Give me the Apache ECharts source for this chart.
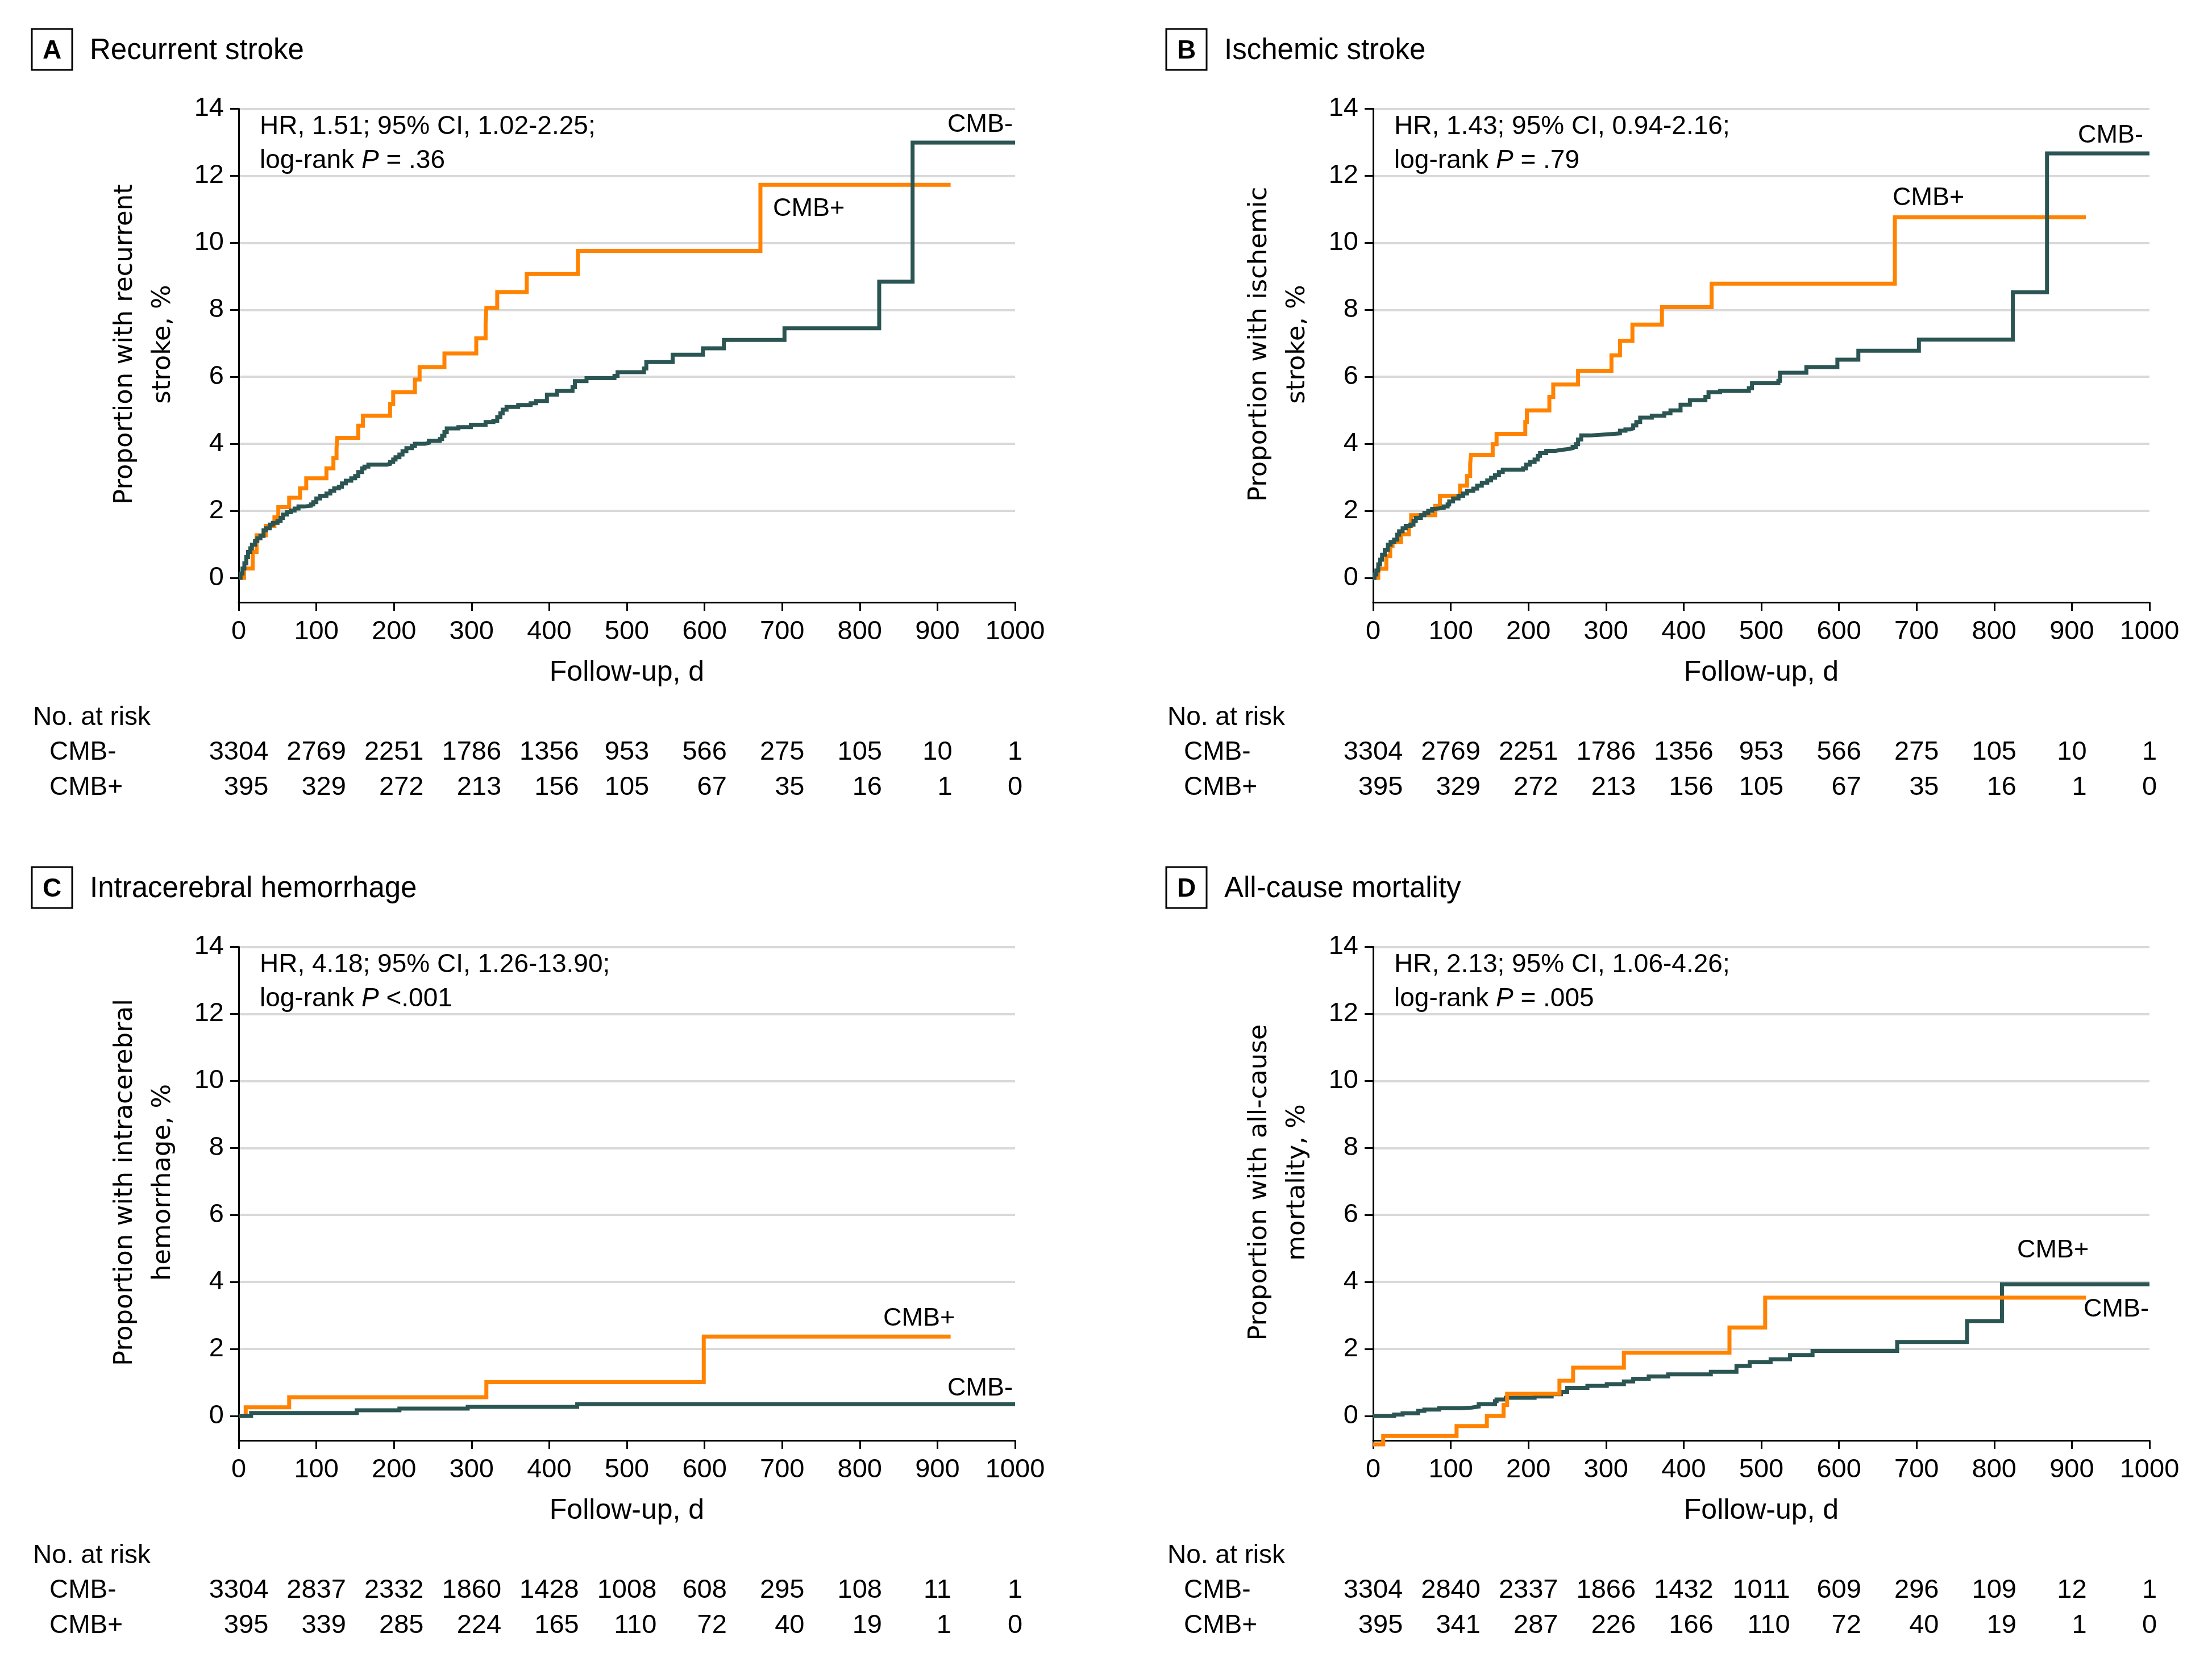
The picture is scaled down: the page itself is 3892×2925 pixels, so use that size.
<!DOCTYPE html>
<html>
<head>
<meta charset="utf-8">
<script src="https://cdn.jsdelivr.net/npm/echarts@6/dist/echarts.min.js"></script>
<style>
html,body{margin:0;padding:0;background:#fff;}
#chart{width:3892px;height:2925px;}
</style>
</head>
<body>
<div id="chart"></div>
<script>
// axes
var xTicks = [0, 100, 200, 300, 400, 500, 600, 700, 800, 900, 1000];
var yTicks = [0, 2, 4, 6, 8, 10, 12, 14];

// A recurrent stroke
var strokeNegDays = [0, 2.4, 4.9, 7.3, 9.8, 12, 15, 17, 21, 24, 28, 32, 35, 40, 44, 50, 54, 57, 62, 67, 72, 77, 84, 93, 96, 100, 105, 113, 118, 123, 129, 133, 138, 145, 150, 154, 159, 162, 167, 191, 195, 199, 202, 207, 211, 216, 223, 227, 240, 245, 259, 262, 265, 268, 283, 299, 318, 328, 333, 337, 340, 345, 360, 376, 383, 397, 410, 430, 433, 448, 484, 488, 522, 525, 559, 598, 625, 703, 825, 868, 1000];
var strokeNegPct = [0, 0.13, 0.28, 0.43, 0.62, 0.77, 0.88, 0.99, 1.10, 1.18, 1.25, 1.42, 1.48, 1.59, 1.64, 1.70, 1.79, 1.89, 1.96, 2.01, 2.07, 2.13, 2.15, 2.19, 2.26, 2.37, 2.45, 2.52, 2.60, 2.67, 2.72, 2.82, 2.90, 2.97, 3.04, 3.16, 3.27, 3.32, 3.38, 3.40, 3.46, 3.53, 3.60, 3.68, 3.78, 3.87, 3.94, 4.00, 4.03, 4.09, 4.14, 4.24, 4.35, 4.46, 4.50, 4.57, 4.65, 4.69, 4.80, 4.91, 5.02, 5.10, 5.16, 5.21, 5.28, 5.47, 5.58, 5.69, 5.87, 5.96, 6.03, 6.14, 6.25, 6.44, 6.66, 6.85, 7.10, 7.45, 8.84, 12.99, 12.99];
var strokePosDays = [0, 7, 18, 23, 35, 46, 51, 65, 79, 87, 113, 122, 126, 127, 154, 160, 195, 199, 227, 233, 265, 306, 318, 319, 333, 371, 437, 672, 917];
var strokePosPct = [0, 0.28, 0.77, 1.27, 1.55, 1.81, 2.11, 2.39, 2.67, 2.97, 3.27, 3.57, 3.87, 4.18, 4.54, 4.84, 5.19, 5.54, 5.92, 6.29, 6.70, 7.15, 7.60, 8.06, 8.53, 9.07, 9.76, 11.73, 11.73];

// B ischemic stroke
var ischNegDays = [0, 1.7, 4.2, 6.6, 9, 11.5, 15, 19, 22.5, 27, 31, 33.5, 38, 42, 48, 52, 55, 61.5, 66, 71, 76, 81, 91, 96, 98, 103, 110, 116, 121, 129, 134, 140, 147, 152, 157, 162, 167, 193, 197, 202, 208, 212, 215, 223, 235, 240, 250, 257, 261, 264, 268, 279, 301, 318, 325, 331, 335, 339, 344, 359, 375, 383, 396, 408, 428, 432, 447, 484, 488, 522, 524, 558, 598, 625, 703, 824, 868, 1000];
var ischNegPct = [0, 0.10, 0.22, 0.40, 0.54, 0.69, 0.84, 0.99, 1.07, 1.14, 1.29, 1.39, 1.48, 1.55, 1.59, 1.70, 1.79, 1.87, 1.94, 2.00, 2.06, 2.09, 2.13, 2.19, 2.28, 2.37, 2.45, 2.52, 2.60, 2.66, 2.75, 2.84, 2.91, 2.99, 3.06, 3.16, 3.23, 3.27, 3.38, 3.46, 3.53, 3.64, 3.72, 3.79, 3.81, 3.84, 3.87, 3.91, 3.99, 4.13, 4.25, 4.28, 4.31, 4.39, 4.43, 4.46, 4.55, 4.65, 4.78, 4.84, 4.91, 5.00, 5.17, 5.30, 5.40, 5.54, 5.58, 5.66, 5.81, 5.88, 6.12, 6.29, 6.51, 6.78, 7.11, 8.52, 12.67, 12.67];
var ischPosDays = [0, 6.6, 17, 22, 25, 36, 46, 49, 80, 86, 112, 121, 125, 126, 154, 159, 196, 198, 227, 232, 264, 307, 318, 334, 372, 436, 672, 918];
var ischPosPct = [0, 0.27, 0.65, 0.95, 1.07, 1.30, 1.55, 1.87, 2.15, 2.45, 2.75, 3.04, 3.40, 3.67, 3.99, 4.30, 4.65, 5.00, 5.40, 5.77, 6.18, 6.64, 7.07, 7.56, 8.08, 8.78, 10.76, 10.76];

// C intracerebral hemorrhage
var ichNegDays = [0, 16, 152, 207, 295, 436, 1000];
var ichNegPct = [0, 0.09, 0.17, 0.22, 0.27, 0.35, 0.35];
var ichPosDays = [0, 9, 65, 319, 599, 917];
var ichPosPct = [0, 0.26, 0.56, 1.01, 2.37, 2.37];

// D all-cause mortality
var deathNegDays = [0, 27, 38, 58, 66, 85, 114, 127, 136, 157, 159, 171, 208, 230, 242, 250, 276, 301, 323, 335, 355, 380, 435, 468, 485, 512, 537, 566, 675, 765, 810, 1000];
var deathNegPct = [0, 0.04, 0.08, 0.15, 0.19, 0.23, 0.25, 0.28, 0.35, 0.44, 0.49, 0.54, 0.58, 0.65, 0.72, 0.84, 0.90, 0.95, 1.03, 1.11, 1.18, 1.24, 1.32, 1.49, 1.60, 1.69, 1.82, 1.94, 2.21, 2.83, 3.93, 3.93];
var deathPosDays = [0, 13, 107.5, 146.5, 168, 172.6, 240, 257.6, 323, 459, 505, 918];
var deathPosPct = [-0.85, -0.60, -0.30, 0, 0.33, 0.66, 1.05, 1.44, 1.89, 2.64, 3.53, 3.53];

// numbers at risk
var riskStrokeNeg = [3304, 2769, 2251, 1786, 1356, 953, 566, 275, 105, 10, 1];
var riskStrokePos = [395, 329, 272, 213, 156, 105, 67, 35, 16, 1, 0];
var riskIschNeg = [3304, 2769, 2251, 1786, 1356, 953, 566, 275, 105, 10, 1];
var riskIschPos = [395, 329, 272, 213, 156, 105, 67, 35, 16, 1, 0];
var riskIchNeg = [3304, 2837, 2332, 1860, 1428, 1008, 608, 295, 108, 11, 1];
var riskIchPos = [395, 339, 285, 224, 165, 110, 72, 40, 19, 1, 0];
var riskDeathNeg = [3304, 2840, 2337, 1866, 1432, 1011, 609, 296, 109, 12, 1];
var riskDeathPos = [395, 341, 287, 226, 166, 110, 72, 40, 19, 1, 0];

var panelLetters = ['A', 'B', 'C', 'D'];
var panelTitles = ['Recurrent stroke', 'Ischemic stroke', 'Intracerebral hemorrhage', 'All-cause mortality'];
var yNames = ['Proportion with recurrent\nstroke, %', 'Proportion with ischemic\nstroke, %',
  'Proportion with intracerebral\nhemorrhage, %', 'Proportion with all-cause\nmortality, %'];
var hrTexts = ['HR, 1.51; 95% CI, 1.02-2.25;', 'HR, 1.43; 95% CI, 0.94-2.16;',
  'HR, 4.18; 95% CI, 1.26-13.90;', 'HR, 2.13; 95% CI, 1.06-4.26;'];
var pTexts = [' = .36', ' = .79', ' <.001', ' = .005'];

var ORANGE = '#ff8300';
var DARK = '#2b5553';
var FONT = '"Liberation Sans", Arial, sans-serif';

var curves = [
  {neg: [strokeNegDays, strokeNegPct], pos: [strokePosDays, strokePosPct], risk: [riskStrokeNeg, riskStrokePos], orangeTop: false},
  {neg: [ischNegDays, ischNegPct], pos: [ischPosDays, ischPosPct], risk: [riskIschNeg, riskIschPos], orangeTop: false},
  {neg: [ichNegDays, ichNegPct], pos: [ichPosDays, ichPosPct], risk: [riskIchNeg, riskIchPos], orangeTop: false},
  {neg: [deathNegDays, deathNegPct], pos: [deathPosDays, deathPosPct], risk: [riskDeathNeg, riskDeathPos], orangeTop: true}
];

// panel offsets and curve label spots
var offX = [0, 1996, 0, 1996];
var offY = [0, 0, 1475, 1475];
var labelSpots = [
  {neg: [1782, 220, 'right'], pos: [1360, 368, 'left']},
  {neg: [3771, 239, 'right'], pos: [3330, 349, 'left']},
  {neg: [1782, 2444, 'right'], pos: [1554, 2321, 'left']},
  {neg: [3781, 2305, 'right'], pos: [3549, 2201, 'left']}
];

function zip(xs, ys) {
  var out = [];
  for (var i = 0; i < xs.length; i++) out.push([xs[i], ys[i]]);
  return out;
}

function txt(x, y, s, font, align, extra) {
  var el = {
    type: 'text', x: x, y: y, silent: true,
    style: {text: s, font: font, fill: '#000', align: align || 'left', textAlign: align || 'left',
      verticalAlign: 'middle', textVerticalAlign: 'middle'}
  };
  if (extra) for (var k in extra) el.style[k] = extra[k];
  return el;
}

var chart = echarts.init(document.getElementById('chart'), null, {renderer: 'canvas'});

var grids = [], xAxes = [], yAxes = [], series = [];
for (var i = 0; i < 4; i++) {
  grids.push({left: 420 + offX[i], top: 191.5 + offY[i], width: 1366, height: 868.5,
    containLabel: false, outerBoundsMode: 'none'});
  xAxes.push({
    gridIndex: i, type: 'value', min: 0, max: 1000, interval: 100,
    name: 'Follow-up, d', nameLocation: 'middle', nameGap: 99,
    nameTextStyle: {fontFamily: FONT, fontSize: 50, color: '#000'},
    axisLine: {show: true, onZero: false, lineStyle: {color: '#000', width: 3}},
    axisTick: {show: true, length: 15, lineStyle: {color: '#000', width: 3}},
    axisLabel: {fontFamily: FONT, fontSize: 47, color: '#000', margin: 29,
      formatter: function (v) { return String(v); }},
    splitLine: {show: false}
  });
  yAxes.push({
    gridIndex: i, type: 'value', min: -0.73, max: 14, splitNumber: 7,
    axisLine: {show: true, lineStyle: {color: '#000', width: 3}},
    axisTick: {show: true, length: 15, customValues: yTicks, lineStyle: {color: '#000', width: 3}},
    axisLabel: {fontFamily: FONT, fontSize: 47, color: '#000', margin: 26, customValues: yTicks,
      formatter: function (v) {
        var r = Math.round(v);
        return (Math.abs(v - r) < 1e-6 && r % 2 === 0) ? String(r) : '';
      }},
    splitLine: {show: true, showMinLine: false, lineStyle: {color: '#d9d9d9', width: 4}}
  });
  var c = curves[i];
  var posSeries = {
    type: 'line', xAxisIndex: i, yAxisIndex: i, step: 'end', symbol: 'none', clip: false,
    z: c.orangeTop ? 4 : 2, silent: true, animation: false,
    data: zip(c.pos[0], c.pos[1]),
    lineStyle: {color: ORANGE, width: 7, join: 'miter', cap: 'butt'}
  };
  var negSeries = {
    type: 'line', xAxisIndex: i, yAxisIndex: i, step: 'end', symbol: 'none', clip: false,
    z: c.orangeTop ? 2 : 4, silent: true, animation: false,
    data: zip(c.neg[0], c.neg[1]),
    lineStyle: {color: DARK, width: 7, join: 'miter', cap: 'butt'}
  };
  series.push(posSeries, negSeries);
}

chart.setOption({
  animation: false,
  backgroundColor: '#fff',
  grid: grids,
  xAxis: xAxes,
  yAxis: yAxes,
  series: series
});

// text pieces: titles, stats, curve labels, risk tables
var measure = document.createElement('canvas').getContext('2d');
measure.font = '47px ' + FONT;

var g = [];
for (var p = 0; p < 4; p++) {
  var dx = offX[p], dy = offY[p];
  // panel letter box and title
  g.push({type: 'rect', silent: true, shape: {x: 56 + dx, y: 51 + dy, width: 71, height: 72},
    style: {fill: 'none', stroke: '#000', lineWidth: 3}});
  g.push(txt(91.5 + dx, 90 + dy, panelLetters[p], 'bold 46px ' + FONT, 'center'));
  g.push(txt(158 + dx, 90 + dy, panelTitles[p], '51px ' + FONT, 'left'));

  // y axis title
  var yn = txt(254 + dx, 606 + dy, yNames[p], '45px "DejaVu Sans", sans-serif', 'center', {lineHeight: 67});
  yn.rotation = Math.PI / 2;
  g.push(yn);

  // HR and P
  g.push(txt(457 + dx, 223 + dy, hrTexts[p], '46px ' + FONT, 'left'));
  g.push(txt(457 + dx, 283 + dy, 'log-rank {i|P}' + pTexts[p], '46px ' + FONT, 'left',
    {rich: {i: {font: 'italic 46px ' + FONT, fill: '#000'}}}));

  // curve labels
  var ls = labelSpots[p];
  g.push(txt(ls.neg[0], ls.neg[1], 'CMB-', '45px ' + FONT, ls.neg[2]));
  g.push(txt(ls.pos[0], ls.pos[1], 'CMB+', '45px ' + FONT, ls.pos[2]));

  // number at risk
  g.push(txt(58 + dx, 1263 + dy, 'No. at risk', '46px ' + FONT, 'left'));
  g.push(txt(87 + dx, 1324 + dy, 'CMB-', '46px ' + FONT, 'left'));
  g.push(txt(87 + dx, 1386 + dy, 'CMB+', '46px ' + FONT, 'left'));
  var negRow = curves[p].risk[0], posRow = curves[p].risk[1];
  for (var j = 0; j < xTicks.length; j++) {
    var px = chart.convertToPixel({xAxisIndex: p}, xTicks[j]);
    var negStr = String(negRow[j]);
    var half = measure.measureText(negStr).width / 2;
    g.push(txt(px, 1324 + dy, negStr, '47px ' + FONT, 'center'));
    g.push(txt(px + half, 1386 + dy, String(posRow[j]), '47px ' + FONT, 'right'));
  }
}

chart.setOption({graphic: {elements: g}});
</script>
</body>
</html>
